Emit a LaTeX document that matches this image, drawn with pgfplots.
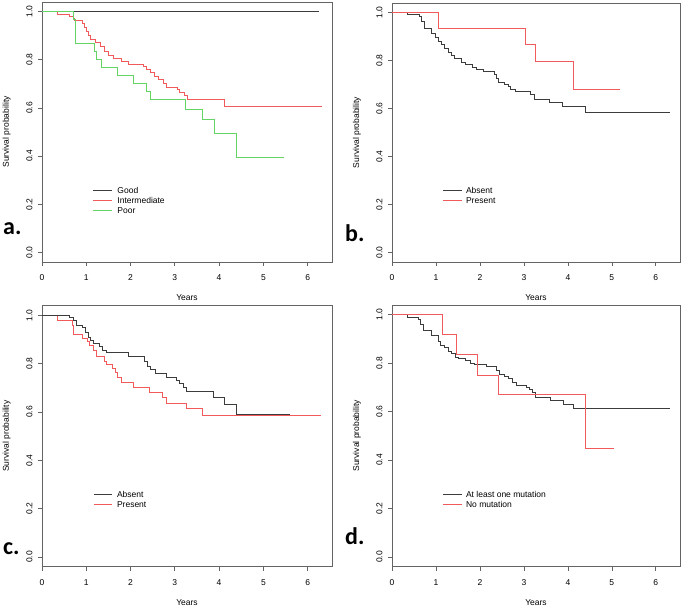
\documentclass[border=0pt]{standalone}
\usepackage{fontspec}
\setmainfont{Liberation Sans}
\newfontfamily\panelfont{Carlito}
\usepackage{pgfplots}
\pgfplotsset{compat=1.18}
\definecolor{kmblack}{RGB}{60,60,60}
\definecolor{kmred}{RGB}{240,90,90}
\definecolor{kmgreen}{RGB}{100,212,100}
\definecolor{boxgray}{RGB}{100,100,100}

\pgfplotsset{
  km/.style={
    scale only axis,
    xmin=0, xmax=6.55, ymin=-0.04, ymax=1.04,
    xtick={0,1,2,3,4,5,6}, ytick={0,0.2,0.4,0.6,0.8,1},
    axis line style={boxgray, line width=0.7pt},
    tick style={boxgray, line width=0.7pt},
    tick align=outside, major tick length=4pt,
    xtick pos=bottom, ytick pos=left,
    font=\fontsize{8.5}{10}\selectfont,
    /pgf/number format/assume math mode=true,
    yticklabel style={/pgf/number format/.cd, fixed, fixed zerofill, precision=1, /tikz/.cd, rotate=90, anchor=south},
    xticklabel style={anchor=north},
    xticklabel shift=5pt, yticklabel shift=2pt,
    every axis x label/.style={at={(axis description cs:0.5,-0.138)}, anchor=center},
    every axis y label/.style={at={(axis description cs:-0.122,0.5)}, rotate=90, anchor=center},
    xlabel={Years}, ylabel={Survival probability},
    clip=false,
  },
  kmline/.style={const plot, line width=0.9pt, mark=none},
}

\begin{document}
\begin{tikzpicture}
\path[use as bounding box, fill=white] (0pt,0pt) rectangle (685pt,609pt);

% panel a
\begin{axis}[km, at={(42pt,347pt)}, anchor=south west, width=290pt, height=260pt]
\addplot[kmline, kmblack] coordinates {(0,1)(6.25,1)};
\addplot[kmline, kmred] coordinates {
  (0,1)(0.35,0.99)(0.63,0.98)(0.70,0.97)(0.73,0.963)(0.91,0.949)(0.95,0.935)
  (1.01,0.918)(1.05,0.902)(1.10,0.885)(1.20,0.87)(1.31,0.856)(1.42,0.836)
  (1.50,0.816)(1.61,0.806)(1.80,0.792)(1.95,0.78)(2.29,0.772)(2.36,0.759)
  (2.44,0.746)(2.54,0.732)(2.63,0.718)(2.74,0.70)(2.82,0.686)(3.05,0.675)
  (3.11,0.664)(3.22,0.651)(3.28,0.635)(4.13,0.607)(6.32,0.607)};
\addplot[kmline, kmgreen] coordinates {
  (0,1)(0.71,0.967)(0.76,0.867)(1.18,0.833)(1.22,0.80)(1.35,0.767)(1.70,0.733)
  (2.07,0.70)(2.35,0.667)(2.44,0.634)(3.25,0.592)(3.63,0.551)(3.90,0.495)
  (4.40,0.395)(5.475,0.395)};
\draw[kmblack, line width=0.9pt] (axis cs:1.15,0.257) -- (axis cs:1.59,0.257);
\draw[kmred, line width=0.9pt] (axis cs:1.15,0.216) -- (axis cs:1.59,0.216);
\draw[kmgreen, line width=0.9pt] (axis cs:1.15,0.174) -- (axis cs:1.59,0.174);
\node[anchor=west, inner sep=0] at (axis cs:1.70,0.257) {Good};
\node[anchor=west, inner sep=0] at (axis cs:1.70,0.216) {Intermediate};
\node[anchor=west, inner sep=0] at (axis cs:1.70,0.174) {Poor};
\end{axis}

% panel b
\begin{axis}[km, at={(392pt,347pt)}, anchor=south west, width=288pt, height=259pt]
\addplot[kmline, kmblack] coordinates {
  (0,1)(0.36,0.992)(0.63,0.985)(0.68,0.963)(0.73,0.932)(0.90,0.911)(0.98,0.897)
  (1.05,0.881)(1.13,0.866)(1.20,0.849)(1.28,0.835)(1.36,0.821)(1.43,0.808)
  (1.58,0.794)(1.66,0.783)(1.83,0.773)(1.92,0.763)(2.07,0.756)(2.32,0.74)
  (2.38,0.725)(2.43,0.71)(2.55,0.70)(2.64,0.69)(2.70,0.68)(2.80,0.67)
  (3.14,0.66)(3.25,0.638)(3.59,0.626)(3.88,0.607)(4.40,0.582)(6.32,0.582)};
\addplot[kmline, kmred] coordinates {
  (0,1)(1.05,0.934)(3.04,0.867)(3.27,0.795)(4.12,0.681)(5.18,0.681)};
\draw[kmblack, line width=0.9pt] (axis cs:1.16,0.257) -- (axis cs:1.59,0.257);
\draw[kmred, line width=0.9pt] (axis cs:1.16,0.216) -- (axis cs:1.59,0.216);
\node[anchor=west, inner sep=0] at (axis cs:1.68,0.257) {Absent};
\node[anchor=west, inner sep=0] at (axis cs:1.68,0.216) {Present};
\end{axis}

% panel c
\begin{axis}[km, at={(42pt,42.3pt)}, anchor=south west, width=290pt, height=261pt]
\addplot[kmline, kmred] coordinates {
  (0,1)(0.35,0.978)(0.69,0.958)(0.72,0.92)(0.92,0.905)(1.03,0.89)(1.07,0.875)
  (1.16,0.855)(1.24,0.83)(1.40,0.81)(1.46,0.795)(1.58,0.78)(1.65,0.765)
  (1.70,0.745)(1.80,0.722)(2.07,0.70)(2.42,0.68)(2.71,0.66)(2.82,0.636)
  (3.26,0.614)(3.63,0.586)(6.30,0.586)};
\addplot[kmline, kmblack] coordinates {
  (0,1)(0.63,0.99)(0.72,0.98)(0.77,0.96)(0.92,0.95)(0.99,0.93)(1.05,0.91)
  (1.10,0.895)(1.16,0.885)(1.30,0.87)(1.36,0.855)(1.45,0.845)(1.95,0.83)
  (2.31,0.81)(2.38,0.79)(2.46,0.775)(2.56,0.76)(2.82,0.745)(3.03,0.73)
  (3.11,0.72)(3.20,0.70)(3.27,0.685)(3.88,0.66)(4.12,0.63)(4.40,0.588)(5.60,0.588)};
\draw[kmblack, line width=0.9pt] (axis cs:1.18,0.258) -- (axis cs:1.58,0.258);
\draw[kmred, line width=0.9pt] (axis cs:1.18,0.216) -- (axis cs:1.58,0.216);
\node[anchor=west, inner sep=0] at (axis cs:1.69,0.258) {Absent};
\node[anchor=west, inner sep=0] at (axis cs:1.69,0.216) {Present};
\end{axis}

% panel d
\begin{axis}[km, at={(392pt,42.3pt)}, anchor=south west, width=288pt, height=261.7pt]
\addplot[kmline, kmblack] coordinates {
  (0,1)(0.35,0.99)(0.60,0.98)(0.65,0.96)(0.72,0.934)(0.90,0.915)(1.05,0.89)
  (1.10,0.875)(1.20,0.865)(1.28,0.85)(1.36,0.84)(1.44,0.825)(1.52,0.818)
  (1.68,0.81)(1.78,0.80)(1.88,0.793)(2.15,0.785)(2.38,0.77)(2.45,0.755)
  (2.55,0.745)(2.65,0.735)(2.75,0.72)(2.82,0.708)(3.05,0.70)(3.12,0.69)
  (3.20,0.68)(3.27,0.66)(3.60,0.645)(3.90,0.63)(4.12,0.612)(6.32,0.612)};
\addplot[kmline, kmred] coordinates {
  (0,1)(1.14,0.917)(1.47,0.834)(1.94,0.75)(2.43,0.669)(4.40,0.446)(5.06,0.446)};
\draw[kmblack, line width=0.9pt] (axis cs:1.16,0.258) -- (axis cs:1.59,0.258);
\draw[kmred, line width=0.9pt] (axis cs:1.16,0.216) -- (axis cs:1.59,0.216);
\node[anchor=west, inner sep=0] at (axis cs:1.68,0.258) {At least one mutation};
\node[anchor=west, inner sep=0] at (axis cs:1.68,0.216) {No mutation};
\end{axis}

% panel letters
\node[anchor=base west, inner sep=0, font=\panelfont\bfseries\fontsize{24}{24}\selectfont] at (3pt,374pt) {a.};
\node[anchor=base west, inner sep=0, font=\panelfont\bfseries\fontsize{24}{24}\selectfont] at (345pt,367.3pt) {b.};
\node[anchor=base west, inner sep=0, font=\panelfont\bfseries\fontsize{24}{24}\selectfont] at (3pt,54pt) {c.};
\node[anchor=base west, inner sep=0, font=\panelfont\bfseries\fontsize{24}{24}\selectfont] at (345pt,64pt) {d.};
\end{tikzpicture}
\end{document}
